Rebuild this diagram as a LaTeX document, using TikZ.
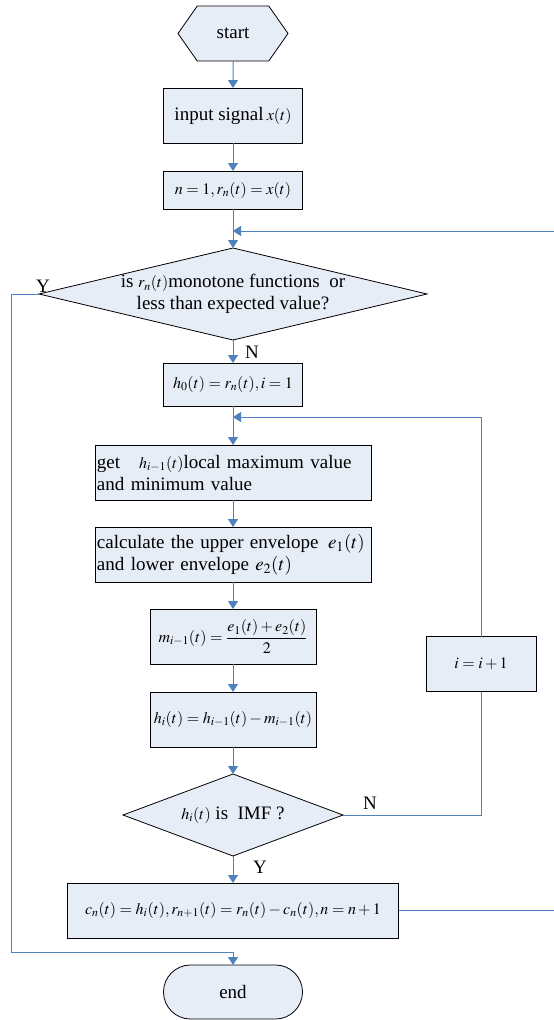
\documentclass[tikz,border=0pt]{standalone}
\usepackage{mathptmx}
\usepackage[no-math]{fontspec}
\setmainfont{Liberation Serif}
\usetikzlibrary{arrows.meta, positioning, shapes.geometric, shapes.symbols, shapes.misc}
\definecolor{flowblue}{RGB}{79,129,189}
\definecolor{boxfill}{RGB}{231,237,247}
\newcommand{\mth}[1]{{\fontsize{16}{19}\selectfont$#1$}}

\begin{document}
\begin{tikzpicture}[
  node distance=27pt,
  font=\fontsize{19}{22}\selectfont,
  box/.style={rectangle, draw=black, fill=boxfill, line width=0.8pt, inner sep=0pt, outer sep=0pt,
              minimum height=55pt, align=center},
  textbox/.style={box, inner xsep=2pt, inner ysep=0pt, text width=272pt, align=left},
  decision/.style={diamond, draw=black, fill=boxfill, line width=0.8pt, inner sep=0pt, outer sep=0pt},
  hexa/.style={signal, signal to=west and east, signal pointer angle=110, draw=black,
              fill=boxfill, line width=0.8pt, inner sep=0pt, outer sep=0pt, minimum width=110pt, minimum height=55pt},
  terminal/.style={rounded rectangle, draw=black, fill=boxfill, line width=0.8pt, inner sep=0pt, outer sep=0pt,
              minimum width=139pt, minimum height=54pt},
  arrow/.style={-{Triangle[length=8pt,width=10pt]}, line width=1pt, flowblue},
  link/.style={line width=1pt, flowblue},
  tag/.style={inner sep=0pt}
]
\useasboundingbox (-233pt,33.5pt) rectangle (321pt,-986.5pt);
\clip (-233pt,33.5pt) rectangle (321pt,-986.5pt);

\node[hexa] (start) at (0,0) {start};
\node[box, minimum width=139pt, below=of start] (input) {input signal\,\mth{x(t)}};
\node[box, minimum width=139pt, minimum height=38pt, below=28pt of input] (init) {\mth{n=1, r_n(t)=x(t)}};
\node[decision, minimum width=388pt, minimum height=92pt, below=39pt of init] (test) {};
\node[tag, align=center] (testtxt) at (test) {is \mth{r_n(t)}monotone functions\ \ or\\less than expected value?};
\node[box, minimum width=139pt, minimum height=43pt, below=23pt of test] (hzero) {\mth{h_0(t)=r_n(t), i=1}};
\node[textbox, below=39pt of hzero] (extrema) {get\ \ \ \mth{h_{i-1}(t)}local maximum value\\and minimum value};
\node[textbox, below=of extrema] (envelope) {calculate the upper envelope\ \,$e_1(t)$\\and lower envelope\ $e_2(t)$};
\node[box, minimum width=166pt, below=of envelope] (mean) {\mth{m_{i-1}(t)=\displaystyle\frac{e_1(t)+e_2(t)}{2}}};
\node[box, minimum width=166pt, below=28pt of mean] (sift) {\mth{h_i(t)=h_{i-1}(t)-m_{i-1}(t)}};
\node[decision, minimum width=220pt, minimum height=82pt, below=of sift] (imf) {};
\node[tag] (imftxt) at (imf) {\mth{h_i(t)} is\ \ IMF ?};
\node[box, minimum width=331pt, below=of imf] (update) {\mth{c_n(t)=h_i(t), r_{n+1}(t)=r_n(t)-c_n(t), n=n+1}};
\node[terminal, below=of update] (end) {end};
\node[box, minimum width=110pt] (inc) at ([xshift=248pt]mean.south) {\mth{i=i+1}};

\coordinate (join1) at ([yshift=-22pt]init.south);
\coordinate (join2) at ([yshift=-11pt]hzero.south);
\coordinate (yturn) at ([xshift=-27pt]test.west);

\node[tag] (ylab) at ([xshift=4pt,yshift=8pt]test.west) {Y};
\node[tag] (nlab) at ([xshift=19pt,yshift=-12pt]test.south) {N};
\node[tag] (nlab2) at ([xshift=27pt,yshift=12pt]imf.east) {N};
\node[tag] (ylab2) at ([xshift=27pt,yshift=-11pt]imf.south) {Y};

\draw[arrow] (start) -- (input);
\draw[arrow] (input) -- (init);
\draw[arrow] (init) -- (test);
\draw[arrow] (test) -- (hzero);
\draw[arrow] (test.west) -- (yturn) |- ([yshift=13pt]end.north) -- (end.north);
\draw[arrow] (update.east) -- ++(160pt,0) |- (join1);
\draw[arrow] (hzero) -- (extrema);
\draw[arrow] (extrema) -- (envelope);
\draw[arrow] (envelope) -- (mean);
\draw[arrow] (mean) -- (sift);
\draw[arrow] (sift) -- (imf);
\draw[link] (imf.east) -| (inc.south);
\draw[arrow] (inc.north) |- (join2);
\draw[arrow] (imf) -- (update);
\end{tikzpicture}
\end{document}
